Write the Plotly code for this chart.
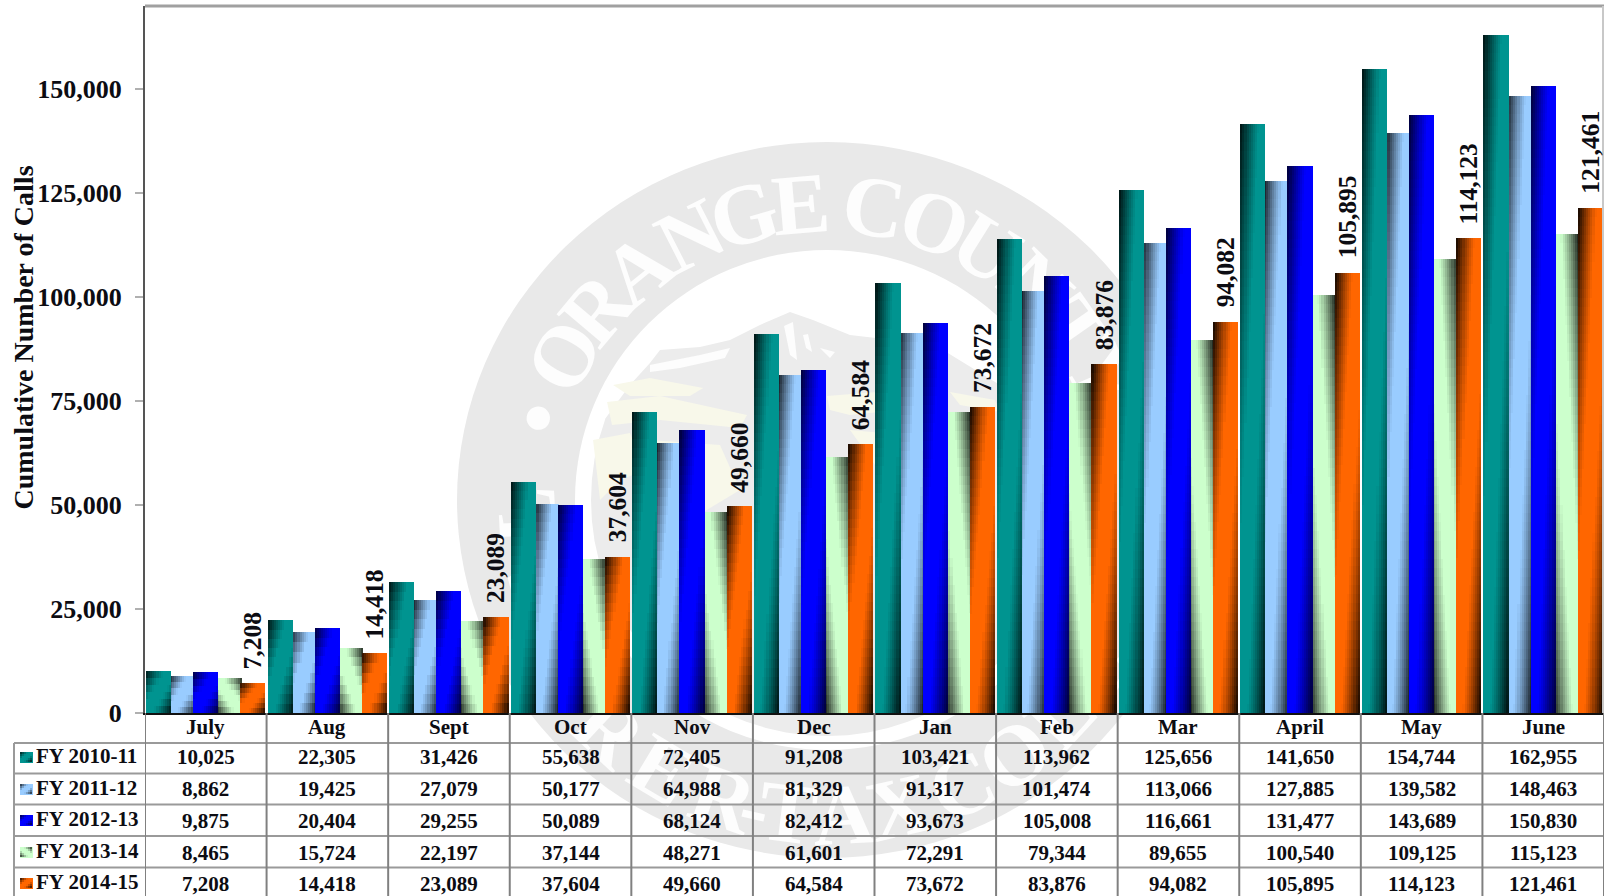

import math
import plotly.graph_objects as go

MONTHS = ["July", "Aug", "Sept", "Oct", "Nov", "Dec", "Jan", "Feb", "Mar", "April", "May", "June"]
FY1011 = [10025, 22305, 31426, 55638, 72405, 91208, 103421, 113962, 125656, 141650, 154744, 162955]
FY1112 = [8862, 19425, 27079, 50177, 64988, 81329, 91317, 101474, 113066, 127885, 139582, 148463]
FY1213 = [9875, 20404, 29255, 50089, 68124, 82412, 93673, 105008, 116661, 131477, 143689, 150830]
FY1314 = [8465, 15724, 22197, 37144, 48271, 61601, 72291, 79344, 89655, 100540, 109125, 115123]
FY1415 = [7208, 14418, 23089, 37604, 49660, 64584, 73672, 83876, 94082, 105895, 114123, 121461]
SERIES_NAMES = ["FY 2010-11", "FY 2011-12", "FY 2012-13", "FY 2013-14", "FY 2014-15"]
SERIES_VALUES = [FY1011, FY1112, FY1213, FY1314, FY1415]
COLORS = ["#009490", "#99CCFF", "#0000FF", "#CCFFCC", "#FF6600"]
SHADE_MAX = [0.9, 0.9, 0.8, 0.9, 0.95]
MIRROR = [False, False, False, True, False]
DRAW_ORDER = [1, 3, 0, 2, 4]
Y_TICKS = [0, 25000, 50000, 75000, 100000, 125000, 150000]

W, H = 1604, 896
L, R, T, B = 145, 1604, 6, 713
Y_MAX = 170000
STEP, BAR_W, START = 0.194, 0.207, -0.492
SERIF = "Liberation Serif"
INK = "#0c0c12"
GRID = "#9a9a9a"


def px(x):
    return (x - L) / (R - L)


def py(y):
    return (B - y) / (B - T)


def shade(u, v, mirror, peak):
    u = 1 - u if mirror else u
    s = abs(u + v - 1)
    return peak * min(1, max(0, (s - 0.25) / 0.75)) ** 1.15


def rect(x0, y0, x1, y1, fill, layer="above"):
    return dict(type="rect", xref="paper", yref="paper", x0=px(x0), x1=px(x1), y0=py(y1), y1=py(y0),
                fillcolor=fill, line_width=0, layer=layer)


def poly(points, fill):
    path = "M " + " L ".join(f"{px(x):.4f},{py(y):.4f}" for x, y in points) + " Z"
    return dict(type="path", xref="paper", yref="paper", path=path, fillcolor=fill, line_width=0, layer="below")


def disc(rx, ry, fill):
    return dict(type="circle", xref="paper", yref="paper", x0=px(CX - rx), x1=px(CX + rx),
                y0=py(CY + ry), y1=py(CY - ry), fillcolor=fill, line_width=0, layer="below")


fig = go.Figure()

SLICES = 12
ROW_PX = 9
for s in DRAW_ORDER:
    vals = SERIES_VALUES[s]
    off = START + s * STEP
    fig.add_bar(x=MONTHS, y=vals, width=BAR_W, offset=off, marker=dict(color=COLORS[s], line_width=0),
                name=SERIES_NAMES[s], showlegend=False, hoverinfo="x+y+name")
    xs, ys, bases, offs, cols = [], [], [], [], []
    for m, v in zip(MONTHS, vals):
        rows = max(6, int(v / Y_MAX * (B - T) / ROW_PX))
        for j in range(rows):
            vv = (j + 0.5) / rows
            for i in range(SLICES):
                a = shade((i + 0.5) / SLICES, 1 - vv, MIRROR[s], SHADE_MAX[s])
                if a < 0.02:
                    continue
                xs.append(m)
                ys.append(v / rows)
                bases.append(v * j / rows)
                offs.append(off + BAR_W * i / SLICES)
                cols.append(f"rgba(0,0,0,{a:.3f})")
    fig.add_bar(x=xs, y=ys, base=bases, offset=offs, width=BAR_W / SLICES,
                marker=dict(color=cols, line_width=0), showlegend=False, hoverinfo="skip")

shapes = []
# Seal watermark, below the bars
CX, CY = 827, 500
SEAL_GREY = "#e9e9e9"
shapes.append(disc(370, 358, SEAL_GREY))
shapes.append(disc(252, 250, "#ffffff"))
MR = 236
arc = [(CX + MR * math.cos(math.radians(a)), CY + MR * math.sin(math.radians(a))) for a in range(-15, 201, 5)]
RIDGE = [(605, 419), (630, 385), (650, 363), (660, 350), (700, 347), (730, 340), (760, 325), (790, 312),
         (813, 320), (850, 335), (893, 340), (943, 350), (1000, 385), (1055, 439)]
shapes.append(poly(RIDGE + arc, "#ececec"))
for blob in (
    [(613, 385), (650, 378), (703, 388), (690, 396), (630, 396)],
    [(607, 402), (660, 396), (747, 415), (740, 428), (660, 420), (612, 425)],
    [(593, 440), (630, 433), (645, 470), (620, 480), (600, 500)],
    [(827, 396), (877, 392), (900, 410), (850, 415), (830, 410)],
    [(950, 392), (995, 400), (1000, 412), (960, 405)],
    [(650, 440), (720, 445), (740, 490), (690, 520), (660, 480)],
    [(850, 430), (960, 440), (985, 520), (900, 500)],
):
    shapes.append(poly(blob, "#f8f8ea"))
for streak in (
    [(784, 326), (793, 322), (797, 360), (790, 355)],
    [(803, 335), (808, 334), (812, 352), (806, 348)],
    [(820, 348), (835, 352), (830, 358)],
    [(650, 365), (700, 355), (730, 348), (725, 358), (680, 368), (650, 372)],
    [(760, 340), (770, 345), (765, 365), (755, 362)],
):
    shapes.append(poly(streak, "#fdfdfd"))


def seal_letter(ch, deg, bottom=False):
    rad = math.radians(deg)
    if bottom:
        x, y = CX + 310 * math.sin(rad), CY + 306 * math.cos(rad)
        rot = -deg
    else:
        x, y = CX + 310 * math.sin(rad), CY - 306 * math.cos(rad)
        rot = deg
    d = 70
    shapes.append(dict(type="rect", xref="paper", yref="paper", x0=px(x - d), x1=px(x + d), y0=py(y + d),
                       y1=py(y - d), line_width=0, fillcolor="rgba(0,0,0,0)", layer="below",
                       label=dict(text=ch, textangle=rot, textposition="middle center",
                                  font=dict(family=SERIF, size=86, color="#fdfdfd", weight="bold"))))


TOP_LETTERS = [("A", -105), ("L", -93), ("•", -74), ("O", -61), ("R", -50), ("A", -39), ("N", -27), ("G", -16),
               ("E", -5), ("C", 9), ("O", 21), ("U", 32), ("N", 44), ("T", 55), ("Y", 66)]
BOTTOM_LETTERS = [("U", -55), ("R", -43), ("E", -31), ("R", -19), ("-", -13), ("T", -7), ("A", 3), ("X", 13),
                  ("C", 25), ("O", 36), ("L", 47), ("L", 57)]
for ch, deg in TOP_LETTERS:
    seal_letter(ch, deg)
for ch, deg in BOTTOM_LETTERS:
    seal_letter(ch, deg, bottom=True)

# Frame
LINE_Y = [743, 773.5, 804.5, 836, 867.5]
for y in LINE_Y:
    shapes.append(dict(type="line", xref="paper", yref="paper", x0=px(14), x1=px(1603), y0=py(y), y1=py(y),
                       line=dict(color=GRID, width=2)))
shapes.append(dict(type="line", xref="paper", yref="paper", x0=px(14), x1=px(14), y0=py(743), y1=py(H),
                   line=dict(color=GRID, width=2)))
for i in range(len(MONTHS) + 1):
    shapes.append(dict(type="line", xref="x", yref="paper", x0=i - 0.5, x1=i - 0.5, y0=py(H), y1=py(B),
                       line=dict(color="#808080", width=2)))
shapes.append(dict(type="line", xref="paper", yref="paper", x0=0, x1=1, y0=1, y1=1,
                   line=dict(color="#a0a0a0", width=3)))
shapes.append(dict(type="line", xref="paper", yref="paper", x0=px(1603), x1=px(1603), y0=0, y1=1,
                   line=dict(color="#c8c8c8", width=2)))

annotations = []
for i, m in enumerate(MONTHS):
    annotations.append(dict(text=m, xref="x", yref="paper", x=i, y=py(727), xanchor="center", yanchor="middle",
                            showarrow=False, font=dict(family=SERIF, size=21, color=INK, weight="bold")))
ROW_Y = [757, 789, 820, 852, 883]
for s, name in enumerate(SERIES_NAMES):
    y = ROW_Y[s]
    annotations.append(dict(text=name, xref="paper", yref="paper", x=px(34.5), y=py(y - 1), xanchor="left",
                            yanchor="middle", showarrow=False,
                            font=dict(family=SERIF, size=21, color=INK, weight="bold")))
    # legend key with the same shading as the bars
    shapes.append(rect(20, y - 5, 33, y + 6, COLORS[s]))
    for i in range(6):
        for j in range(5):
            a = shade((i + .5) / 6, (j + .5) / 5, MIRROR[s], SHADE_MAX[s])
            x0 = 20 + 2 * i
            y0 = y - 5 + 2 * j
            shapes.append(rect(x0, y0, x0 + 2, y0 + 2, f"rgba(0,0,0,{a:.3f})"))
    for i, v in enumerate(SERIES_VALUES[s]):
        annotations.append(dict(text=f"{v:,}", xref="x", yref="paper", x=i, y=py(y + 0.5), xanchor="center",
                                yanchor="middle", showarrow=False,
                                font=dict(family=SERIF, size=21, color=INK, weight="bold")))

for i, v in enumerate(FY1415):
    annotations.append(dict(text=f"{v:,}", xref="x", yref="y", x=i + START + 4 * STEP + BAR_W / 2, y=v,
                            xanchor="center", yanchor="bottom", yshift=12, textangle=-90, showarrow=False,
                            font=dict(family=SERIF, size=25.5, color=INK, weight="bold")))

annotations.append(dict(text="Cumulative Number of Calls", xref="paper", yref="paper", x=px(22.5), y=py(338),
                        xanchor="center", yanchor="middle", textangle=-90, showarrow=False,
                        font=dict(family=SERIF, size=28, color=INK, weight="bold")))

fig.update_layout(
    width=W, height=H, autosize=False,
    margin=dict(l=L, r=W - R, t=T, b=H - B, pad=0),
    paper_bgcolor="white", plot_bgcolor="rgba(0,0,0,0)",
    barmode="overlay", bargap=0, bargroupgap=0, showlegend=False,
    shapes=shapes, annotations=annotations,
    font=dict(family=SERIF, color=INK),
    xaxis=dict(type="category", categoryorder="array", categoryarray=MONTHS, range=[-0.5, 11.5],
               showgrid=False, ticks="", showline=True, linecolor="#111", linewidth=2, zeroline=False,
               showticklabels=False),
    yaxis=dict(range=[0, Y_MAX], tickvals=Y_TICKS, tickformat=",d", showgrid=False, zeroline=False,
               ticks="outside", ticklen=8, tickwidth=1.5, tickcolor="#b0b0b0", showline=True,
               linecolor="#555", linewidth=2, ticklabelstandoff=8,
               tickfont=dict(family=SERIF, size=26, color=INK, weight="bold")),
)

fig.write_html("out.html", config={"displayModeBar": False},
               post_script="document.body.style.margin='0';document.body.style.overflow='hidden';")
